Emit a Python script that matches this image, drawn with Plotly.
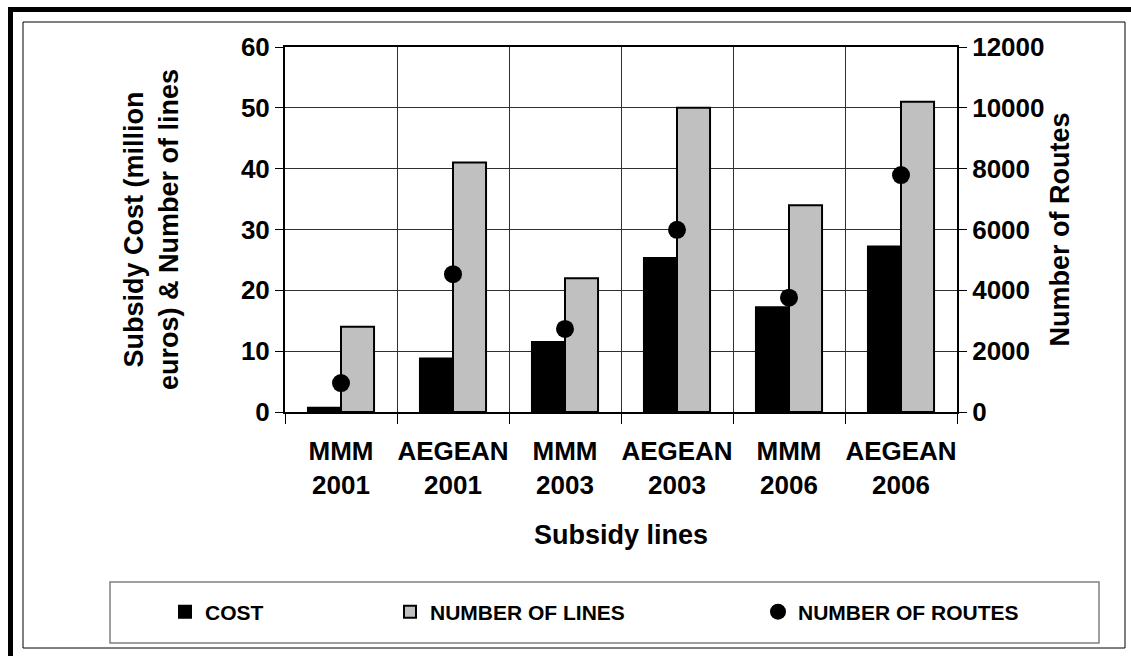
import plotly.graph_objects as go

categories = ["MMM<br>2001", "AEGEAN<br>2001", "MMM<br>2003", "AEGEAN<br>2003", "MMM<br>2006", "AEGEAN<br>2006"]
cost = [0.7, 8.8, 11.5, 25.3, 17.2, 27.2]
num_lines = [14, 41, 22, 50, 34, 51]
num_routes = [950, 4530, 2730, 5990, 3760, 7790]

W, H = 1131, 656
L, R, T, B = 285, 957, 47, 412


def px(x):
    return (x - L) / (R - L)


def py(y):
    return (B - y) / (B - T)


FONT = "Liberation Sans, Arial, sans-serif"
GRID = "#303030"

fig = go.Figure()
fig.add_trace(go.Bar(x=categories, y=cost, name="COST",
                     marker=dict(color="black", line=dict(color="black", width=2)),
                     legend="legend"))
fig.add_trace(go.Bar(x=categories, y=num_lines, name="NUMBER OF LINES",
                     marker=dict(color="#C0C0C0", line=dict(color="black", width=2)),
                     legend="legend2"))
fig.add_trace(go.Scatter(x=categories, y=num_routes, name="NUMBER OF ROUTES", mode="markers",
                         marker=dict(color="black", size=18), yaxis="y2", legend="legend3"))

leg_common = dict(orientation="h", yanchor="middle", xanchor="left",
                  font=dict(family=FONT, size=21, color="black", weight="bold"),
                  bgcolor="rgba(0,0,0,0)", borderwidth=0)

fig.update_layout(
    width=W, height=H, autosize=False, showlegend=True,
    margin=dict(l=L, r=W - R, t=T, b=H - B, pad=0),
    paper_bgcolor="white", plot_bgcolor="white",
    font=dict(family=FONT, color="black", weight="bold"),
    barmode="group", bargap=0.41, bargroupgap=0,
    xaxis=dict(type="category", tickson="boundaries", ticks="outside", ticklen=10, tickangle=0,
               ticklabelstandoff=15,
               tickcolor="black", tickwidth=1, showline=True, linecolor="black", linewidth=2,
               mirror=True, showgrid=True, gridcolor=GRID, gridwidth=1,
               tickfont=dict(size=26, family=FONT, weight="bold"),
               title=dict(text="Subsidy lines", font=dict(size=27, family=FONT, weight="bold"), standoff=26)),
    yaxis=dict(range=[0, 60], dtick=10, ticks="outside", ticklen=8, tickcolor="black",
               showline=True, linecolor="black", linewidth=2, showgrid=True, gridcolor=GRID,
               gridwidth=1, zeroline=False,
               tickfont=dict(size=26, family=FONT, weight="bold"),
               title=dict(text="Subsidy Cost (million<br>euros) & Number of lines",
                          font=dict(size=27, family=FONT, weight="bold"), standoff=54)),
    yaxis2=dict(overlaying="y", side="right", range=[0, 12000], dtick=2000, ticks="outside",
                ticklen=8, tickcolor="black", showline=True, linecolor="black", linewidth=2,
                showgrid=False, zeroline=False, tickformat="d",
                tickfont=dict(size=26, family=FONT, weight="bold"),
                title=dict(text="Number of Routes", font=dict(size=27, family=FONT, weight="bold"),
                           standoff=7)),
    legend=dict(x=px(165), y=py(612), **leg_common),
    legend2=dict(x=px(390), y=py(612), **leg_common),
    legend3=dict(x=px(758), y=py(612), **leg_common),
    shapes=[
        dict(type="rect", xref="paper", yref="paper", x0=px(10.5), y0=py(9.5), x1=px(1160), y1=py(690),
             line=dict(color="black", width=5)),
        dict(type="rect", xref="paper", yref="paper", x0=px(23), y0=py(22), x1=px(1125), y1=py(648),
             line=dict(color="black", width=1)),
        dict(type="rect", xref="paper", yref="paper", x0=px(110), y0=py(582), x1=px(1099), y1=py(643),
             line=dict(color="#808080", width=1.5)),
    ],
)

fig.write_html("out.html", config={"displayModeBar": False},
               post_script="document.body.style.margin='0';document.body.style.overflow='hidden';")
